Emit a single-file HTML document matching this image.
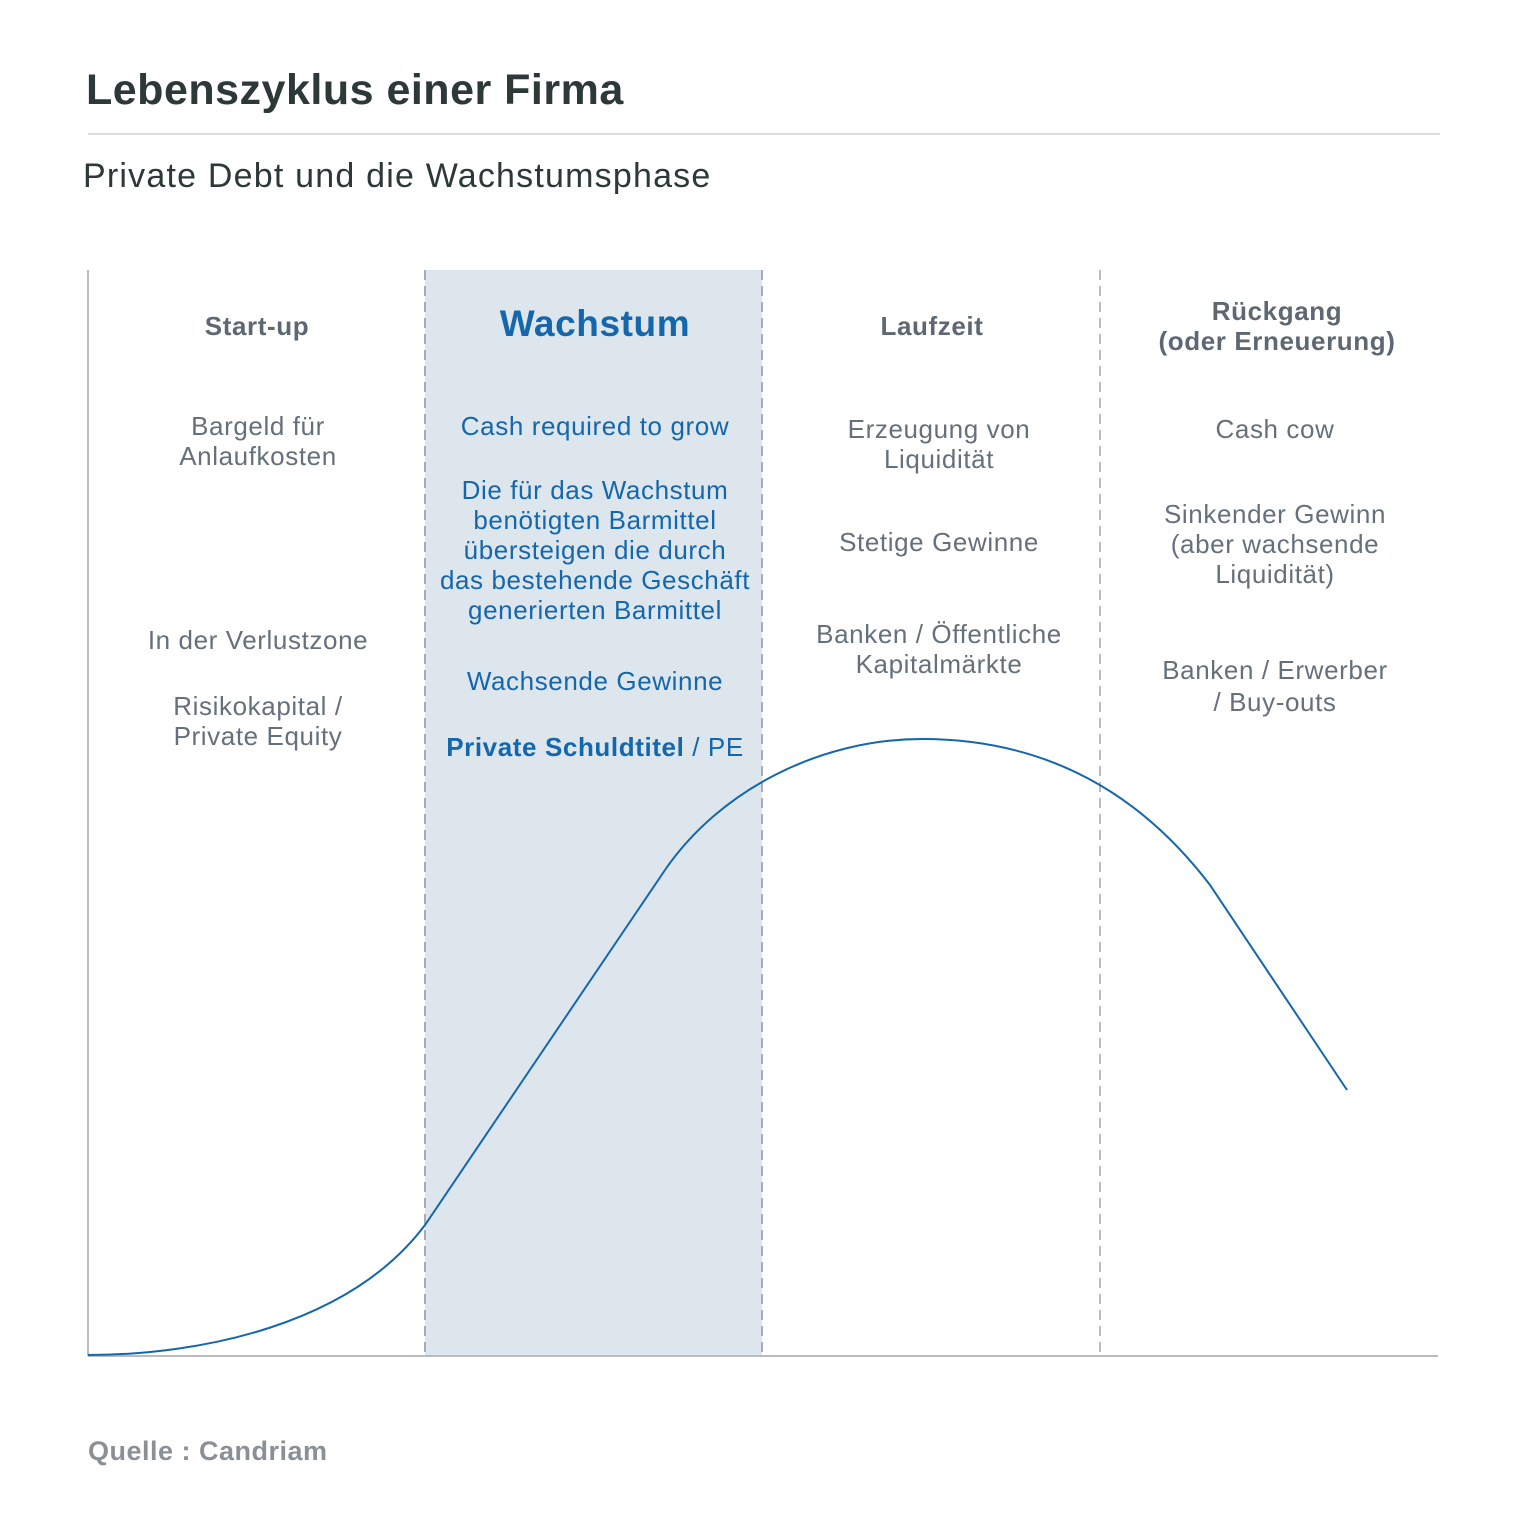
<!DOCTYPE html>
<html><head><meta charset="utf-8"><style>
body{margin:0;width:1519px;height:1533px;background:#fff;position:relative;font-family:"Liberation Sans",sans-serif;overflow:hidden}
.t{position:absolute;text-align:center;white-space:nowrap;transform:translateX(-50%);font-size:26px;line-height:30px;color:#66707b;letter-spacing:0.6px}
.b{color:#1467ad}
.h{font-weight:bold;color:#5e6873;font-size:26px}
</style></head><body>
<div style="position:absolute;left:86px;top:66px;font-size:43px;font-weight:bold;color:#2d3838;letter-spacing:0.5px">Lebenszyklus einer Firma</div>
<div style="position:absolute;left:88px;top:133px;width:1352px;height:2px;background:#dcdcdc"></div>
<div style="position:absolute;left:83px;top:157px;font-size:34px;color:#2d3838;letter-spacing:1.2px">Private Debt und die Wachstumsphase</div>
<svg style="position:absolute;left:0;top:0" width="1519" height="1533">
<rect x="425" y="270" width="337" height="1086" fill="#dde6ec"/>
<line x1="88" y1="270" x2="88" y2="1356" stroke="#bbb" stroke-width="2"/>
<line x1="425" y1="270" x2="425" y2="1356" stroke="#aab" stroke-width="2" stroke-dasharray="10,6"/>
<line x1="762" y1="270" x2="762" y2="1356" stroke="#aab" stroke-width="2" stroke-dasharray="10,6"/>
<line x1="1100" y1="270" x2="1100" y2="1356" stroke="#bbb" stroke-width="2" stroke-dasharray="10,6"/>
<line x1="88" y1="1356" x2="1438" y2="1356" stroke="#bbb" stroke-width="2"/>
<path d="M88,1355 C200,1355 350,1325 425,1225 L665,870 C720,790 820,739 922,739 C1030,739 1130,780 1210,885 L1347,1090" fill="none" stroke="#1467ad" stroke-width="2"/>
</svg>
<div class="t h" style="left:257px;top:311px">Start-up</div>
<div class="t b" style="left:595px;top:303px;font-size:37px;line-height:42px;font-weight:bold">Wachstum</div>
<div class="t h" style="left:932px;top:311px">Laufzeit</div>
<div class="t h" style="left:1277px;top:296px">Rückgang<br>(oder Erneuerung)</div>
<div class="t" style="left:258px;top:411px">Bargeld für<br>Anlaufkosten</div>
<div class="t" style="left:258px;top:625px">In der Verlustzone</div>
<div class="t" style="left:258px;top:691px">Risikokapital /<br>Private Equity</div>
<div class="t b" style="left:595px;top:411px">Cash required to grow</div>
<div class="t b" style="left:595px;top:475px">Die für das Wachstum<br>benötigten Barmittel<br>übersteigen die durch<br>das bestehende Geschäft<br>generierten Barmittel</div>
<div class="t b" style="left:595px;top:666px">Wachsende Gewinne</div>
<div class="t b" style="left:595px;top:732px"><b>Private Schuldtitel</b> / PE</div>
<div class="t" style="left:939px;top:414px">Erzeugung von<br>Liquidität</div>
<div class="t" style="left:939px;top:527px">Stetige Gewinne</div>
<div class="t" style="left:939px;top:619px">Banken / Öffentliche<br>Kapitalmärkte</div>
<div class="t" style="left:1275px;top:414px">Cash cow</div>
<div class="t" style="left:1275px;top:499px">Sinkender Gewinn<br>(aber wachsende<br>Liquidität)</div>
<div class="t" style="left:1275px;top:654px;line-height:32px">Banken / Erwerber<br>/ Buy-outs</div>
<div style="position:absolute;left:88px;top:1436px;font-size:27px;font-weight:bold;color:#8a9096;letter-spacing:0.5px">Quelle : Candriam</div>
</body></html>
